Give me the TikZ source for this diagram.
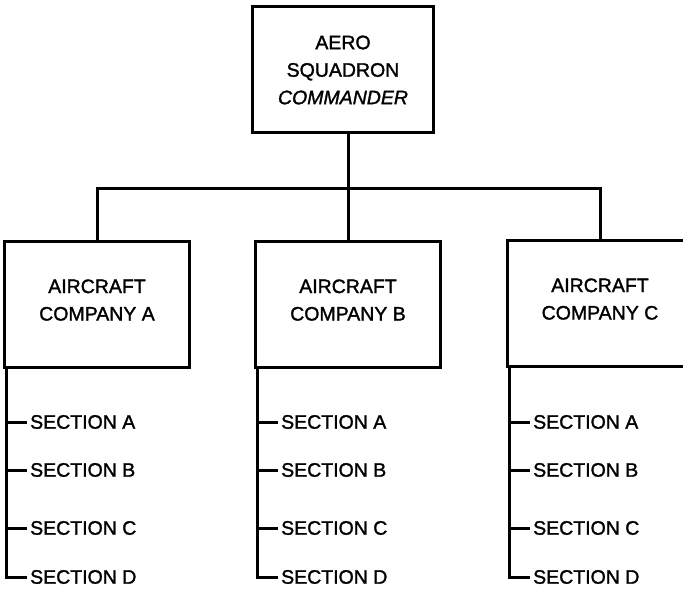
\documentclass[tikz,border=0pt]{standalone}
\usepackage{fontspec}
\setmainfont{Liberation Sans}[FakeBold=1.5]
\usetikzlibrary{positioning}

\tikzset{
  unitbox/.style={draw, line width=3pt, minimum width=185pt, minimum height=126pt, align=center, font=\fontsize{19.5}{27.5}\selectfont},
  cobox/.style={unitbox, text depth=8pt},
  sectext/.style={anchor=west, inner sep=0pt, font=\fontsize{19.5}{22}\selectfont},
  orgline/.style={line width=3pt}
}

\begin{document}
\begin{tikzpicture}[x=1pt, y=-1pt]
\useasboundingbox (0,0) rectangle (683,591);
\node[unitbox, minimum width=181pt] (cmdr) at (343,70) {AERO\\SQUADRON\\\textit{COMMANDER}};
\coordinate (bar) at (347,189);
\node[cobox] (coA) at (97,304) {AIRCRAFT\\COMPANY A};
\node[cobox] (coB) at (348,304) {AIRCRAFT\\COMPANY B};
\node[cobox] (coC) at (600,303) {AIRCRAFT\\COMPANY C};
% squadron to companies
\draw[orgline] (coB.north) -- (coB.north |- cmdr.south);
\draw[orgline] (coA.north) |- (bar) -| (coC.north);
% sections under each company
\foreach \co in {coA,coB,coC}{
  \foreach \s/\y in {A/422,B/470,C/528,D/577}
    \node[sectext] (\co-\s) at ([xshift=27pt]\co.south west |- 0,\y) {SECTION \s};
  \draw[orgline, shorten >=3pt] ([xshift=3pt]\co.south west) |- (\co-D.west);
  \foreach \s in {A,B,C}
    \draw[orgline, shorten >=3pt] ([xshift=3pt]\co.south west |- \co-\s.west) -- (\co-\s.west);
}
\end{tikzpicture}
\end{document}
